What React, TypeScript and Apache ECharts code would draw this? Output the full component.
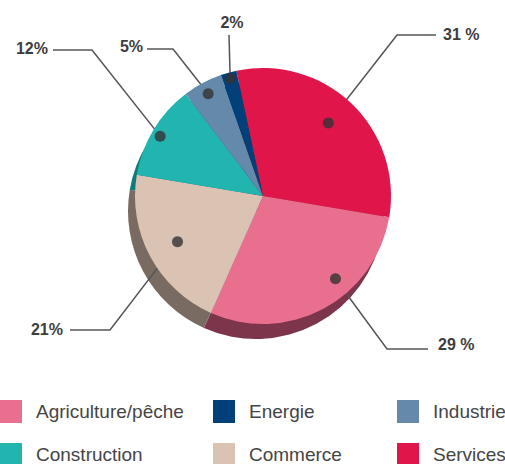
import React, { useEffect, useRef } from "react";
import * as echarts from "echarts";

// Data, in clockwise order starting just left of 12 o'clock
const sectors = ["Services", "Agriculture/pêche", "Commerce", "Construction", "Industrie", "Energie"];
const shares = [31, 29, 21, 12, 5, 2];
const shareLabels = ["31 %", "29 %", "21%", "12%", "5%", "2%"];
const legendRows = [
  ["Agriculture/pêche", "Energie", "Industrie"],
  ["Construction", "Commerce", "Services"],
];

// Styles / layout
const faceColors = ["#e0164a", "#e96f8f", "#dbc3b4", "#22b5b0", "#6489aa", "#014079"];
const shadowColors = ["#8a1535", "#7c354b", "#7a6b62", "#0f7c78", "#3d566b", "#01284c"];
const CX = 263, CY = 196, R = 128;
const START = 102;
const legendLefts = [0, 213, 397];
const legendTops = [400, 443];
const dotRadius = [98, 110, 97, 119, 116, 122];
const dotAngleShift = [-2, -13, 0, -1, 0, 0];
// [labelX, labelY, align, elbowX, elbowY, endX, endY]
const labelLayouts: [number, number, string, number, number, number, number][] = [
  [443, 34, "left", 397, 35, 436, 35],
  [438, 344, "left", 387, 349, 428, 349],
  [63, 329, "right", 110, 330, 70, 330],
  [48, 48, "right", 92, 50, 53, 50],
  [143, 46, "right", 173, 49, 147, 49],
  [232, 22, "center", 229, 35, 229, 35],
];

function dotPolar(i: number): [number, number] {
  const total = shares.reduce((a, b) => a + b, 0);
  let cum = 0;
  for (let k = 0; k < i; k++) cum += shares[k];
  const mid = ((cum + shares[i] / 2) / total) * 360 + dotAngleShift[i];
  return [dotRadius[i], mid];
}
function dotPixel(i: number): [number, number] {
  const [r, a] = dotPolar(i);
  const th = ((START - a) * Math.PI) / 180;
  return [CX + r * Math.cos(th), CY - r * Math.sin(th)];
}

export default function App() {
  const ref = useRef<HTMLDivElement>(null);
  useEffect(() => {
    if (!ref.current) return;
    const chart = echarts.init(ref.current, null, { renderer: "svg" });
    const font = "'Liberation Sans', Arial, sans-serif";
    const legends: any[] = [];
    legendRows.forEach((row, r) =>
      row.forEach((name, c) =>
        legends.push({
          left: legendLefts[c],
          top: legendTops[r],
          data: [name],
          icon: "rect",
          itemWidth: 22,
          itemHeight: 23,
          selectedMode: false,
          padding: 0,
          textStyle: { fontFamily: font, fontSize: 19, color: "#454545", padding: [0, 0, 0, 9] },
        })
      )
    );
    chart.setOption({
      animation: false,
      backgroundColor: "#ffffff",
      polar: { center: [CX, CY], radius: R },
      angleAxis: { type: "value", min: 0, max: 360, startAngle: START, clockwise: true, show: false },
      radiusAxis: { type: "value", min: 0, max: R, show: false },
      legend: legends,
      series: [
        {
          type: "pie",
          name: "face",
          center: [CX, CY],
          radius: R,
          startAngle: START,
          clockwise: true,
          avoidLabelOverlap: false,
          z: 3,
          data: sectors.map((n, i) => ({ name: n, value: shares[i], itemStyle: { color: faceColors[i] } })),
          label: {
            show: true,
            position: "outside",
            formatter: (p: any) => shareLabels[p.dataIndex],
            fontFamily: font,
            fontSize: 16,
            fontWeight: "bold",
            color: "#3d3d3d",
          },
          labelLine: { show: true, lineStyle: { color: "#555555", width: 1.5 } },
          labelLayout: (p: any) => {
            const i = p.dataIndex;
            const L = labelLayouts[i];
            const d = dotPixel(i);
            return {
              x: L[0],
              y: L[1],
              align: L[2],
              verticalAlign: "middle",
              labelLinePoints: [d, [L[3], L[4]], [L[5], L[6]]],
            };
          },
          emphasis: { disabled: true },
        },
        {
          type: "pie",
          name: "shadow",
          center: [CX - 7, CY + 15],
          radius: R,
          startAngle: START,
          clockwise: true,
          silent: true,
          z: 1,
          label: { show: false },
          labelLine: { show: false },
          data: shares.map((v, i) => ({ value: v, itemStyle: { color: shadowColors[i] } })),
        },
        {
          type: "scatter",
          coordinateSystem: "polar",
          symbol: "circle",
          symbolSize: 11,
          z: 5,
          silent: true,
          itemStyle: { color: "#333333" },
          data: sectors.map((_, i) => dotPolar(i)),
        },
      ],
    });
    return () => chart.dispose();
  }, []);
  return <div ref={ref} style={{ position: "absolute", left: 0, top: 0, width: 505, height: 464 }} />;
}
